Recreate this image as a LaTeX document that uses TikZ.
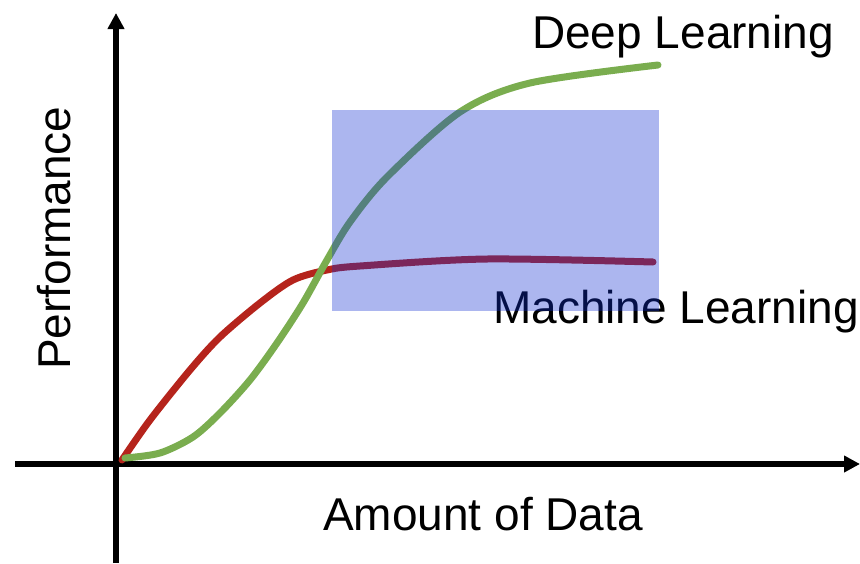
\documentclass[tikz,border=0pt]{standalone}
\usepackage{fontspec}
\setmainfont{Liberation Sans}
\usepackage{tikz}
\usetikzlibrary{arrows.meta, positioning}
\definecolor{verde}{RGB}{122,173,79}
\definecolor{rojo}{RGB}{181,36,28}
\definecolor{azul}{RGB}{16,47,209}
\tikzset{
	eje/.style={line width=5.5pt, -{Triangle[length=16pt,width=16pt]}}, % Ejes con punta gruesa
	curva/.style={line width=7pt, line cap=round}, % Curvas de rendimiento
	etiqueta/.style={font=\fontsize{46}{54}\selectfont, inner sep=0pt} % Texto de los ejes y curvas
}

\begin{document}
\begin{tikzpicture}[x=1pt, y=-1pt]
				\useasboundingbox (0,0) rectangle (860,563);
				\coordinate (O) at (116,464);
				\coordinate (xini) at (15,464);
				\coordinate (xfin) at (860,464);
				\coordinate (yini) at (116,563);
				\coordinate (yfin) at (116,13);
				\draw[eje] (xini) -- (xfin);
				\draw[eje] (yini) -- (yfin);
				\draw[curva, rojo] plot[smooth] coordinates {
					(122,460) (150,420) (190,370) (220,337) (260,303) (293,280) (327,270) (360,266) (487,259) (653,262)
				};
				\draw[curva, verde] plot[smooth] coordinates {
					(125,458) (160,453) (193,437) (220,413) (250,380) (277,343) (303,303) (327,260) (350,222) (387,177) (460,112) (530,83) (658,65)
				};
				\node[etiqueta, anchor=base west] (dl) at (532,48) {Deep Learning};
				\node[etiqueta, anchor=base west] (ml) at (493,323) {Machine Learning};
				\node[etiqueta, anchor=base west] (datos) at (323,530) {Amount of Data};
				\node[etiqueta, anchor=base west, rotate=90] (rend) at (70,370) {Performance};
				\fill[azul, fill opacity=0.35] (332,110) rectangle (659,311);
			\end{tikzpicture}
\end{document}
